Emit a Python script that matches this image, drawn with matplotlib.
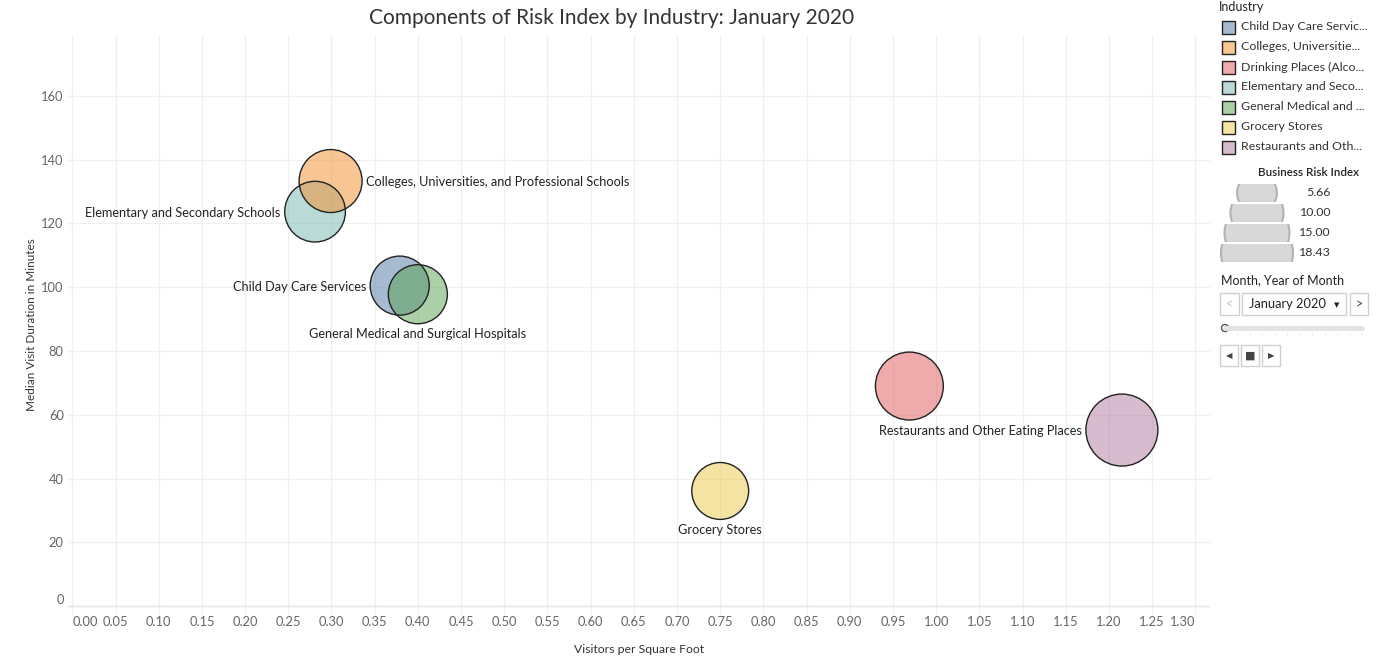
import numpy as np
import matplotlib.pyplot as plt
from matplotlib.patches import Rectangle, Circle

# data (January 2020)
industries = ["Child Day Care Services",
              "Colleges, Universities, and Professional Schools",
              "Drinking Places (Alcoholic Beverages)",
              "Elementary and Secondary Schools",
              "General Medical and Surgical Hospitals",
              "Grocery Stores",
              "Restaurants and Other Eating Places"]
legend_names = ["Child Day Care Servic...", "Colleges, Universitie...",
                "Drinking Places (Alco...", "Elementary and Seco...",
                "General Medical and ...", "Grocery Stores",
                "Restaurants and Oth..."]
visitors_sqft = [0.379, 0.299, 0.969, 0.281, 0.400, 0.750, 1.215]
visit_minutes = [100.5, 133.3, 69.0, 123.7, 97.8, 36.1, 55.2]
risk_index = [12.4, 14.1, 16.4, 13.1, 12.4, 11.5, 18.43]
colors = ["#4e79a7", "#f28e2b", "#e15759", "#76b7b2", "#59a14f", "#edc948", "#b07aa1"]
# where the mark label sits: None = hidden
label_pos = ["left", "right", None, "left", "below", "below", "left"]

size_legend_vals = [5.66, 10.00, 15.00, 18.43]
x_ticks = np.round(np.arange(0, 1.301, 0.05), 2)
y_ticks = [0, 20, 40, 60, 80, 100, 120, 140, 160]

plt.rcParams['font.family'] = ['Lato', 'DejaVu Sans']

W, H = 1379, 666
fig = plt.figure(figsize=(W / 100, H / 100), dpi=100)
ax = fig.add_axes([68 / W, 1 - 615 / H, (1210 - 68) / W, (615 - 35) / H])

k = 2687 / 18.43   # marker area per risk index point
sizes = [k * v for v in risk_index]
order = [3, 1, 0, 4, 2, 5, 6]
for i in order:
    ax.scatter(visitors_sqft[i], visit_minutes[i], s=sizes[i], color=colors[i],
               alpha=0.5, edgecolors="none", zorder=3)
    ax.scatter(visitors_sqft[i], visit_minutes[i], s=sizes[i], facecolors="none",
               edgecolors="#222222", linewidths=1.0, zorder=4)

for i, pos in enumerate(label_pos):
    if pos is None:
        continue
    r = np.sqrt(sizes[i]) / 2
    if pos == "left":
        off, ha, va = (-r - 3, -1), "right", "center"
    elif pos == "right":
        off, ha, va = (r + 3, -1), "left", "center"
    else:
        off, ha, va = (0, -r - 3), "center", "top"
    ax.annotate(industries[i], (visitors_sqft[i], visit_minutes[i]), xytext=off,
                textcoords="offset points", ha=ha, va=va, fontsize=9.2,
                color="#222222", zorder=5)

ax.set_xlim(-0.005, 1.317)
ax.set_ylim(-2.8, 179.1)
ax.set_xticks(x_ticks)
ax.set_xticklabels([f"{v:.2f}" for v in x_ticks])
ax.set_yticks(y_ticks)
ax.tick_params(length=0, labelsize=9.3, labelcolor="#666666")
ax.tick_params(axis="x", pad=1)
ax.tick_params(axis="y", pad=3)
xl = ax.get_xticklabels()
xl[0].set_ha("left")
xl[-1].set_ha("right")
yl = ax.get_yticklabels()
yl[0].set_va("bottom")
ax.grid(True, color="#f0f0f0", linewidth=1)
ax.set_axisbelow(True)
for s in ax.spines.values():
    s.set_visible(False)
ax.axhline(0, color="#e6e6e6", linewidth=1, zorder=1)
ax.set_xlabel("Visitors per Square Foot", fontsize=8.8, color="#333333", labelpad=11)
ax.set_ylabel("Median Visit Duration in Minutes", fontsize=8.5, color="#333333")
ax.yaxis.set_label_coords((37 - 68) / (1210 - 68), 0.5)

fig.text(612 / W, 1 - 18 / H, "Components of Risk Index by Industry: January 2020",
         ha="center", va="center", fontsize=15, color="#333333")

# right side panel: legends and month control
ov = fig.add_axes([0, 0, 1, 1])
ov.set_xlim(0, W)
ov.set_ylim(H, 0)
ov.axis("off")

ov.text(1219, 7, "Industry", fontsize=9, color="#222222", va="center")
for i, name in enumerate(legend_names):
    y = 27 + 20 * i
    ov.add_patch(Rectangle((1222, y - 6.5), 13, 13, facecolor=colors[i], alpha=0.5,
                           edgecolor="none"))
    ov.add_patch(Rectangle((1222, y - 6.5), 13, 13, facecolor="none",
                           edgecolor="#222222", linewidth=1))
    ov.text(1241, y, name, fontsize=8.9, color="#333333", va="center")

ov.text(1309, 173, "Business Risk Index", fontsize=8.4, color="#222222",
        va="center", ha="center", fontweight="semibold")
for j, v in enumerate(size_legend_vals):
    y = 193 + 20 * j
    d = 72 * np.sqrt(v / 18.43)
    clip = Rectangle((1200, y - 9), 120, 18, transform=ov.transData)
    c = Circle((1257, y), d / 2, facecolor="#d8d8d8", edgecolor="#b3b3b3",
               linewidth=1.5)
    ov.add_patch(c)
    c.set_clip_path(clip)
    ov.text(1331, y, f"{v:.2f}", fontsize=8.9, color="#333333", va="center", ha="right")

ov.text(1221, 280, "Month, Year of Month", fontsize=9, color="#222222", va="center")
ov.add_patch(Rectangle((1220, 293), 19, 22, facecolor="white", edgecolor="#d0d0d0"))
ov.text(1229.5, 304, "<", fontsize=9, color="#c0c0c0", ha="center", va="center")
ov.add_patch(Rectangle((1242, 293), 104, 22, facecolor="white", edgecolor="#d0d0d0"))
ov.text(1249, 304, "January 2020", fontsize=9.3, color="#222222", va="center")
ov.text(1337, 305, "▼", fontsize=5, color="#222222", ha="center", va="center",
        family=["DejaVu Sans"])
ov.add_patch(Rectangle((1350, 293), 18, 22, facecolor="white", edgecolor="#d0d0d0"))
ov.text(1359, 304, ">", fontsize=9, color="#444444", ha="center", va="center")
ov.plot([1225, 1362], [328, 328], color="#e3e3e3", linewidth=3.5, solid_capstyle="round")
for tx in np.linspace(1225, 1362, 12):
    ov.plot([tx, tx], [333, 336], color="#eeeeee", linewidth=0.8)
ov.add_patch(Circle((1225, 328), 3.5, facecolor="white", edgecolor="#555555", linewidth=1))
for bx, sym in zip([1220, 1241, 1262], ["◀", "■", "▶"]):
    ov.add_patch(Rectangle((bx, 345), 18, 21, facecolor="white", edgecolor="#d0d0d0"))
    ov.text(bx + 9, 355.5, sym, fontsize=6 if sym != "■" else 8, color="#444444",
            ha="center", va="center", family=["DejaVu Sans"])

fig.savefig("out.png", dpi=100)
